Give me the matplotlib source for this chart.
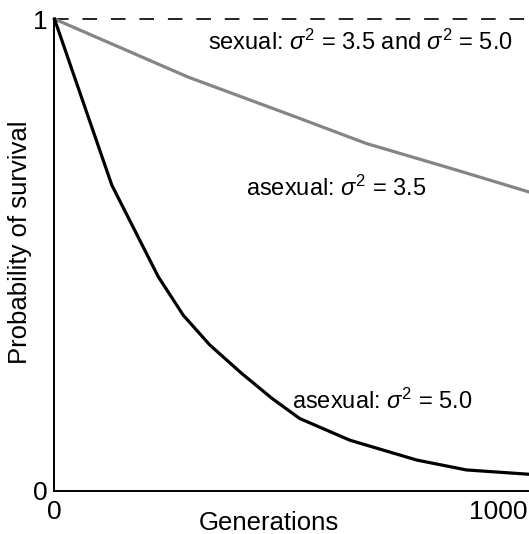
import matplotlib
matplotlib.use("Agg")
import matplotlib.pyplot as plt

plt.rcParams['font.family'] = ['Liberation Sans', 'DejaVu Sans']
plt.rcParams['mathtext.fontset'] = 'custom'
plt.rcParams['mathtext.rm'] = 'Liberation Sans'
plt.rcParams['mathtext.it'] = 'Liberation Sans:italic'
plt.rcParams['lines.scale_dashes'] = False

# Data
gen_asex50 = [0, 121, 219, 272, 328, 395, 459, 518, 624, 765, 870, 1000]
surv_asex50 = [1.0, 0.648, 0.454, 0.372, 0.309, 0.249, 0.196, 0.153, 0.107, 0.065, 0.044, 0.035]

gen_asex35 = [0, 282, 508, 659, 835, 1000]
surv_asex35 = [1.0, 0.877, 0.793, 0.736, 0.684, 0.634]

gen_sex = [0, 1000]
surv_sex = [1.0, 1.0]

xticks = [0, 1000]
xticklabels = ['0', '1000']
yticks = [0, 1]
yticklabels = ['0', '1']

fig = plt.figure(figsize=(5.29, 5.34), dpi=100)
ax = fig.add_axes([0.103, 0.0811, 0.895, 0.8833])

ax.plot(gen_sex, surv_sex, color='black', lw=1.2, linestyle=(0, (10.5, 10)), clip_on=False)
ax.plot(gen_asex35, surv_asex35, color='#858585', lw=2.3, clip_on=False, solid_joinstyle='round')
ax.plot(gen_asex50, surv_asex50, color='black', lw=2.3, clip_on=False, solid_joinstyle='round')

ax.set_xlim(0, 1000)
ax.set_ylim(0, 1)
for s in ['top', 'right']:
    ax.spines[s].set_visible(False)
for s in ['left', 'bottom']:
    ax.spines[s].set_linewidth(1.4)

ax.set_xticks(xticks)
ax.set_xticklabels(xticklabels)
ax.set_yticks(yticks)
ax.set_yticklabels(yticklabels)
ax.tick_params(axis='both', length=0, labelsize=19)
ax.tick_params(axis='x', pad=7)
ax.tick_params(axis='y', pad=5)
ax.get_xticklabels()[1].set_ha('right')

ax.set_xlabel('Generations', fontsize=18.5)
ax.xaxis.set_label_coords(0.452, -0.043)
ax.set_ylabel('Probability of survival', fontsize=18.5)
ax.yaxis.set_label_coords(-0.048, 0.526)

ax.text(324, 0.951, r'sexual: $\sigma^2$ = 3.5 and $\sigma^2$ = 5.0', fontsize=17, va='center', ha='left')
ax.text(404, 0.642, r'asexual: $\sigma^2$ = 3.5', fontsize=17, va='center', ha='left')
ax.text(502, 0.19, r'asexual: $\sigma^2$ = 5.0', fontsize=17, va='center', ha='left')

fig.savefig('out.png', dpi=100)
